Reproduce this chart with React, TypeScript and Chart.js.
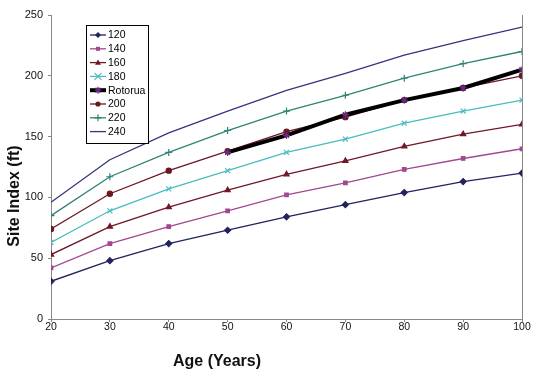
import React, { useEffect, useRef } from "react";
import { Chart, registerables } from "chart.js";

Chart.register(...registerables);

const ages = [20, 30, 40, 50, 60, 70, 80, 90, 100];
const si120 = [31, 48, 62, 73, 84, 94, 104, 113, 120];
const si140 = [42, 62, 76, 89, 102, 112, 123, 132, 140];
const si160 = [53, 76, 92, 106, 119, 130, 142, 152, 160];
const si180 = [63, 89, 107, 122, 137, 148, 161, 171, 180];
const rotorua = [null, null, null, 137, 151, 168, 180, 190, 205];
const si200 = [74, 103, 122, 138, 154, 166, 180, 190, 200];
const si220 = [85, 117, 137, 155, 171, 184, 198, 210, 220];
const si240 = [96, 131, 153, 171, 188, 202, 217, 229, 240];
const yTicks = [0, 50, 100, 150, 200, 250];

const FONT = "'Liberation Sans', Arial, sans-serif";

const toXY = (vals: (number | null)[]) =>
  ages.map((a, i) => ({ x: a, y: vals[i] }));

const mk = (
  label: string,
  vals: (number | null)[],
  color: string,
  pointStyle: any,
  radius: number,
  width = 1.3,
  pointColor?: string
) => ({
  label,
  data: toXY(vals),
  borderColor: color,
  backgroundColor: pointColor || color,
  pointBorderColor: pointColor || color,
  pointBackgroundColor: pointColor || color,
  borderWidth: width,
  pointStyle,
  pointRadius: radius,
  pointBorderWidth: 1.2,
  spanGaps: false,
  tension: 0,
});

function drawPt(ctx: CanvasRenderingContext2D, style: string, x: number, y: number, r: number) {
  ctx.beginPath();
  if (style === "rectRot") {
    ctx.moveTo(x, y - r); ctx.lineTo(x + r, y); ctx.lineTo(x, y + r); ctx.lineTo(x - r, y); ctx.closePath();
    ctx.fill();
  } else if (style === "rect") {
    ctx.rect(x - r * 0.8, y - r * 0.8, r * 1.6, r * 1.6); ctx.fill();
  } else if (style === "triangle") {
    ctx.moveTo(x, y - r); ctx.lineTo(x + r, y + r * 0.7); ctx.lineTo(x - r, y + r * 0.7); ctx.closePath(); ctx.fill();
  } else if (style === "circle") {
    ctx.arc(x, y, r, 0, Math.PI * 2); ctx.fill();
  } else if (style === "crossRot") {
    ctx.moveTo(x - r, y - r); ctx.lineTo(x + r, y + r); ctx.moveTo(x + r, y - r); ctx.lineTo(x - r, y + r); ctx.stroke();
  } else if (style === "cross") {
    ctx.moveTo(x - r, y); ctx.lineTo(x + r, y); ctx.moveTo(x, y - r); ctx.lineTo(x, y + r); ctx.stroke();
  } else if (style === "star") {
    ctx.moveTo(x - r, y); ctx.lineTo(x + r, y); ctx.moveTo(x, y - r); ctx.lineTo(x, y + r);
    ctx.moveTo(x - r * 0.7, y - r * 0.7); ctx.lineTo(x + r * 0.7, y + r * 0.7);
    ctx.moveTo(x + r * 0.7, y - r * 0.7); ctx.lineTo(x - r * 0.7, y + r * 0.7);
    ctx.stroke();
  }
}

const legendPlugin = {
  id: "boxLegend",
  afterDraw(chart: any) {
    const ctx = chart.ctx;
    const x0 = 86, y0 = 25, w = 62, h = 118;
    ctx.save();
    ctx.fillStyle = "#fff";
    ctx.fillRect(x0, y0, w, h);
    ctx.strokeStyle = "#000";
    ctx.lineWidth = 1;
    ctx.strokeRect(x0 + 0.5, y0 + 0.5, w, h);
    ctx.font = `10.5px ${FONT}`;
    ctx.textBaseline = "middle";
    chart.data.datasets.forEach((ds: any, i: number) => {
      const cy = y0 + 10 + i * 13.8;
      ctx.strokeStyle = ds.borderColor;
      ctx.lineWidth = ds.borderWidth;
      ctx.beginPath();
      ctx.moveTo(x0 + 4, cy);
      ctx.lineTo(x0 + 20, cy);
      ctx.stroke();
      if (ds.pointRadius > 0) {
        ctx.fillStyle = ds.pointBackgroundColor;
        ctx.strokeStyle = ds.pointBorderColor;
        ctx.lineWidth = 1.2;
        drawPt(ctx, ds.pointStyle, x0 + 12, cy, ds.pointRadius);
      }
      ctx.fillStyle = "#000";
      ctx.textAlign = "left";
      ctx.fillText(ds.label, x0 + 22, cy + 0.5);
    });
    ctx.restore();
  },
};

const titlePlugin = {
  id: "axisTitles",
  afterDraw(chart: any) {
    const ctx = chart.ctx;
    ctx.save();
    ctx.fillStyle = "#111";
    ctx.font = `bold 16px ${FONT}`;
    ctx.textAlign = "center";
    ctx.textBaseline = "middle";
    ctx.fillText("Age (Years)", 217, 362);
    ctx.translate(15, 196);
    ctx.rotate(-Math.PI / 2);
    ctx.fillText("Site Index (ft)", 0, 0);
    ctx.restore();
  },
};

export default function App() {
  const ref = useRef<HTMLCanvasElement>(null);
  useEffect(() => {
    document.body.style.margin = "0";
    const chart = new Chart(ref.current!, {
      type: "line",
      data: {
        datasets: [
          mk("120", si120, "#22225E", "rectRot", 3),
          mk("140", si140, "#A04890", "rect", 2.5),
          mk("160", si160, "#701828", "triangle", 3),
          mk("180", si180, "#48BCC0", "crossRot", 3.5),
          mk("Rotorua", rotorua, "#000000", "star", 3.5, 4, "#6A2A80"),
          mk("200", si200, "#6A1822", "circle", 2.6),
          mk("220", si220, "#2E8474", "cross", 3.5),
          mk("240", si240, "#38337E", "circle", 0),
        ] as any,
      },
      options: {
        animation: false,
        responsive: false,
        devicePixelRatio: 1,
        layout: { padding: { top: 15, right: 20, left: 0, bottom: 0 } },
        plugins: { legend: { display: false }, tooltip: { enabled: false } },
        scales: {
          x: {
            type: "linear",
            min: 20,
            max: 100,
            afterFit: (s: any) => { s.height = 59; },
            ticks: { stepSize: 10, color: "#111", font: { size: 10.5, family: FONT }, padding: -1 },
            border: { color: "#888", width: 1 },
            grid: {
              color: (c: any) => (c.tick && c.tick.value === 100 ? "#888" : "rgba(0,0,0,0)"),
              tickColor: "#888",
              tickLength: 3,
            },
          },
          y: {
            min: 0,
            max: 250,
            afterFit: (s: any) => { s.width = 51; },
            afterBuildTicks: (s: any) => { s.ticks = yTicks.map((v) => ({ value: v })); },
            ticks: { color: "#111", font: { size: 11, family: FONT }, padding: 5 },
            border: { color: "#888", width: 1 },
            grid: { drawOnChartArea: false, tickColor: "#888", tickLength: 3 },
          },
        },
      },
      plugins: [legendPlugin, titlePlugin],
    } as any);
    return () => chart.destroy();
  }, []);
  return <canvas ref={ref} width={542} height={378} style={{ display: "block" }} />;
}
